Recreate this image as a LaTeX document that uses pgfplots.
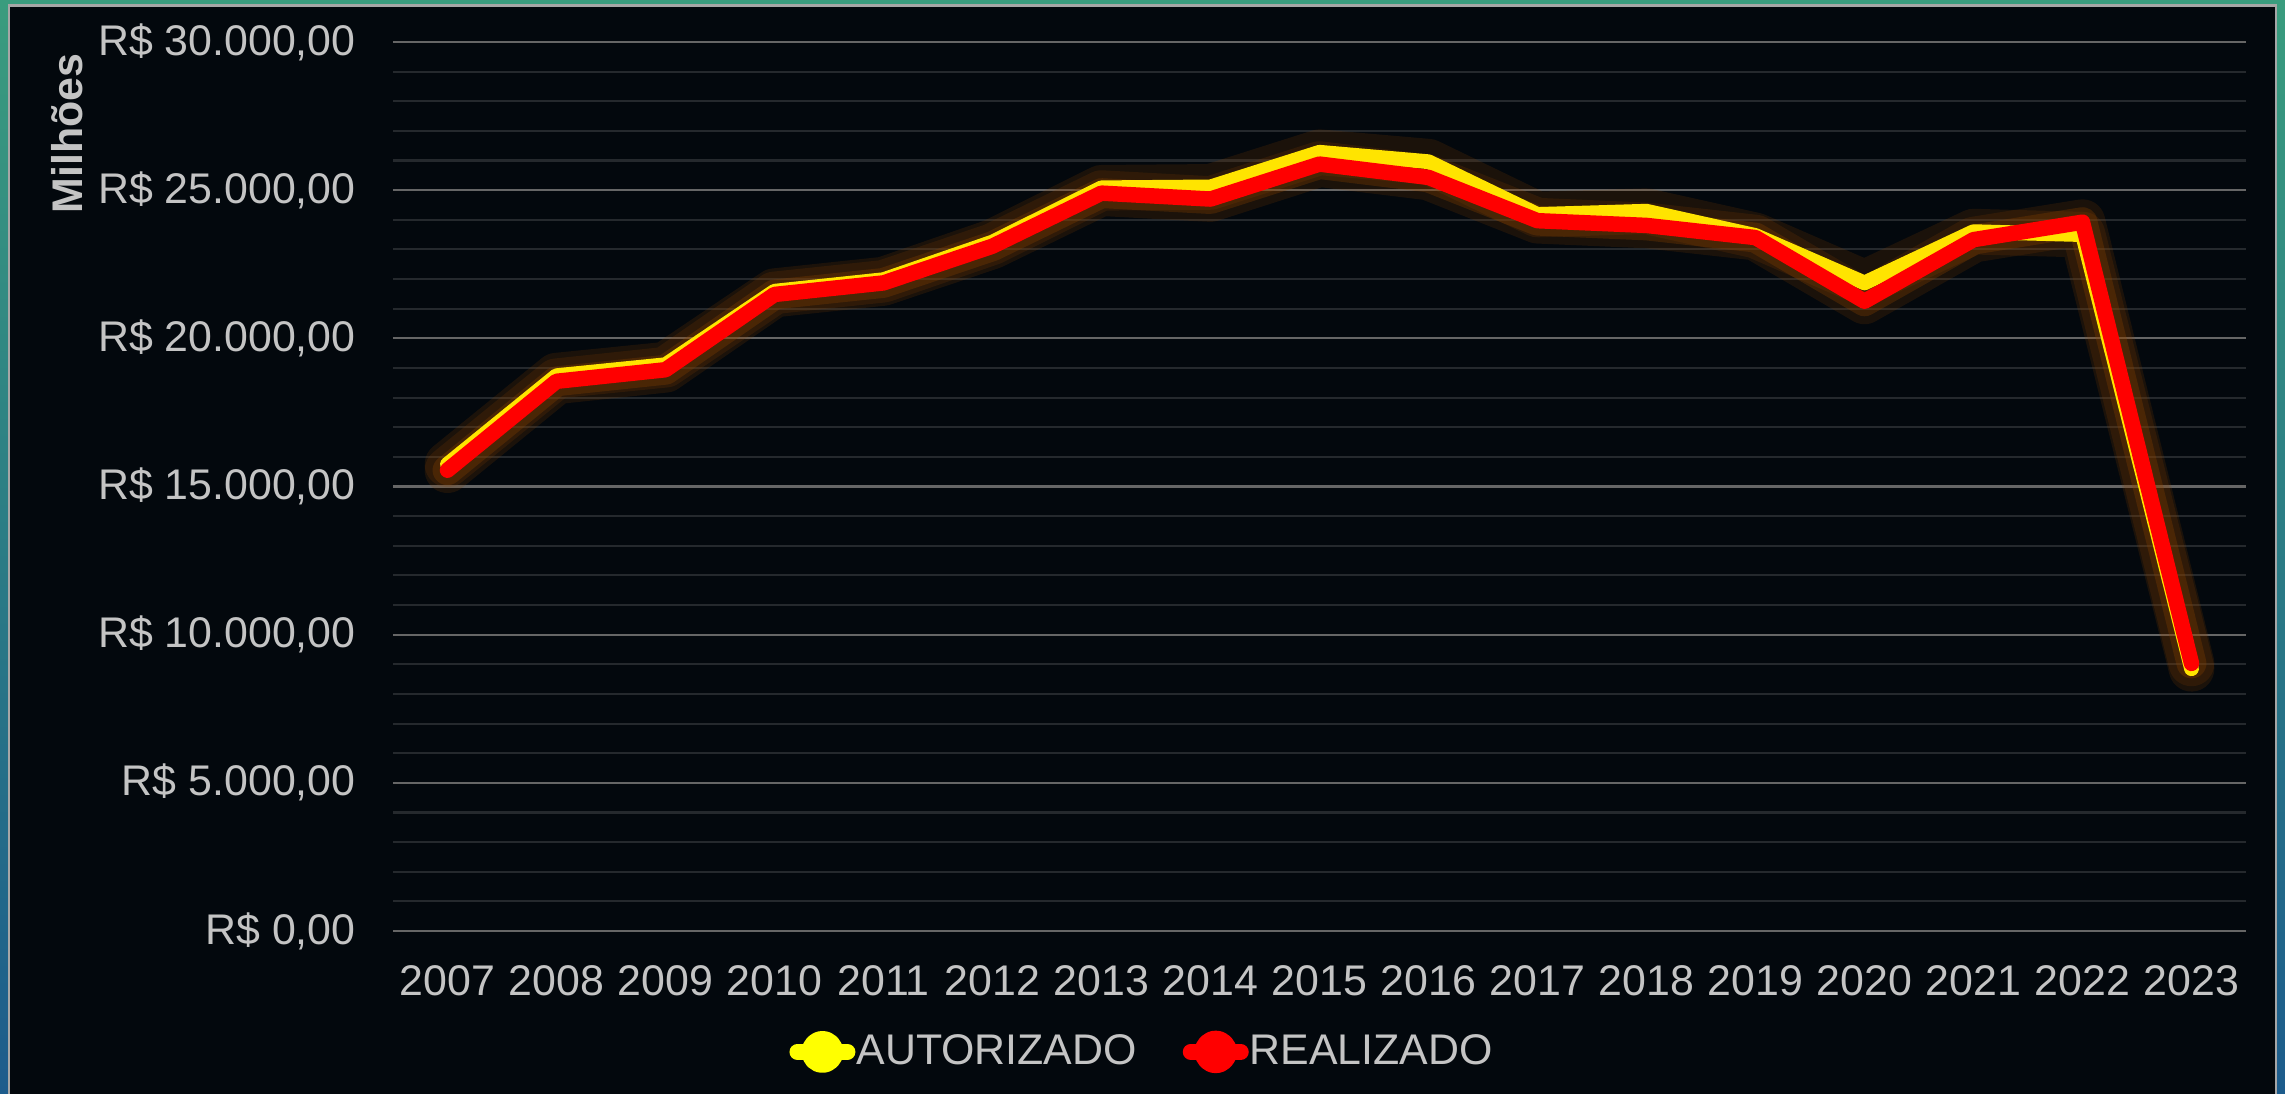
\documentclass[border=0pt]{standalone}
\usepackage{fontspec}
\setmainfont{Liberation Sans}
\usepackage{pgfplots}
\usepackage{pgfplotstable}
\pgfplotsset{compat=1.18}

\definecolor{fundo}{HTML}{03080D}
\definecolor{texto}{HTML}{C4C4C4}
\definecolor{gradeM}{HTML}{666666}
\definecolor{gradem}{HTML}{25292D}
\definecolor{amarelo}{HTML}{FFE400}
\definecolor{amareloLeg}{HTML}{FFFF00}
\definecolor{vermelho}{HTML}{FF0000}
\definecolor{brilho}{HTML}{8A4200}
\definecolor{tealA}{HTML}{3A9C7E}
\definecolor{tealB}{HTML}{1D5C8C}

% valores em milhoes de R$
\pgfplotstableread{
x ano  aut   rea
0 2007 15750 15550
1 2008 18740 18550
2 2009 19110 18940
3 2010 21590 21480
4 2011 21980 21870
5 2012 23250 23110
6 2013 25080 24900
7 2014 25110 24700
8 2015 26280 25880
9 2016 25960 25430
10 2017 24180 23970
11 2018 24290 23810
12 2019 23470 23400
13 2020 21870 21250
14 2021 23600 23330
15 2022 23500 23920
16 2023 8850 9030
}\dados

\newcommand{\fonte}{\fontsize{12.2}{14}\selectfont}

\begin{document}
\begin{tikzpicture}
% moldura de fundo
\shade[top color=tealA, bottom color=tealB] (0,0) rectangle (22.85,10.94);
\fill[fundo] (0.09,-0.2) rectangle (22.76,10.885);
\draw[line width=0.6pt, color=gray!70!white] (0.09,-0.2) -- (0.09,10.885) -- (22.76,10.885) -- (22.76,-0.2);

\begin{axis}[
    at={(3.93cm,1.63cm)}, anchor=south west,
    scale only axis, width=18.53cm, height=8.89cm,
    xmin=-0.5, xmax=16.5, ymin=0, ymax=30000,
    clip=false,
    scaled y ticks=false,
    axis line style={draw=none},
    tick style={draw=none},
    xtick={0,...,16},
    xticklabels={2007,2008,2009,2010,2011,2012,2013,2014,2015,2016,2017,2018,2019,2020,2021,2022,2023},
    ytick={0,5000,...,30000},
    yticklabels={{R\$ 0,00},{R\$ 5.000,00},{R\$ 10.000,00},{R\$ 15.000,00},{R\$ 20.000,00},{R\$ 25.000,00},{R\$ 30.000,00}},
    minor y tick num=4,
    ymajorgrids, yminorgrids,
    major grid style={gradeM, line width=0.6pt},
    minor grid style={gradem, line width=0.6pt},
    tick label style={font=\fonte, text=texto},
    xticklabel style={yshift=-0.22cm},
    yticklabel style={xshift=-0.25cm},
    legend columns=2,
    legend style={at={(0.404,-0.136)}, anchor=center, draw=none, fill=none,
        text=texto, font=\fonte,
        nodes={inner xsep=0.01cm},
        /tikz/every even column/.append style={column sep=0.45cm}},
    every axis plot/.append style={line join=round, line cap=round},
]
% brilho
\addplot[forget plot, brilho, opacity=0.18, line width=13pt] table[x=x, y=aut] {\dados};
\addplot[forget plot, brilho, opacity=0.18, line width=13pt] table[x=x, y=rea] {\dados};
\addplot[forget plot, brilho, opacity=0.3, line width=8.5pt] table[x=x, y=rea] {\dados};

\addplot[amarelo, line width=4.2pt,
    legend image code/.code={
        \draw[amareloLeg, line width=0.16cm, line cap=round] (0cm,0cm) -- (0.5cm,0cm);
        \fill[amareloLeg] (0.25cm,0cm) circle (0.135cm);}]
    table[x=x, y=aut] {\dados};
\addlegendentry{AUTORIZADO}
\addplot[vermelho, line width=4.4pt,
    legend image code/.code={
        \draw[vermelho, line width=0.16cm, line cap=round] (0cm,0cm) -- (0.5cm,0cm);
        \fill[vermelho] (0.25cm,0cm) circle (0.135cm);}]
    table[x=x, y=rea] {\dados};
\addlegendentry{REALIZADO}
\end{axis}

\node[rotate=90, anchor=east, inner sep=0pt, font=\bfseries\fonte, text=texto] at (0.67,10.41) {Milhões};

\pgfresetboundingbox
\path[use as bounding box] (0,0) rectangle (22.85,10.94);
\end{tikzpicture}
\end{document}
